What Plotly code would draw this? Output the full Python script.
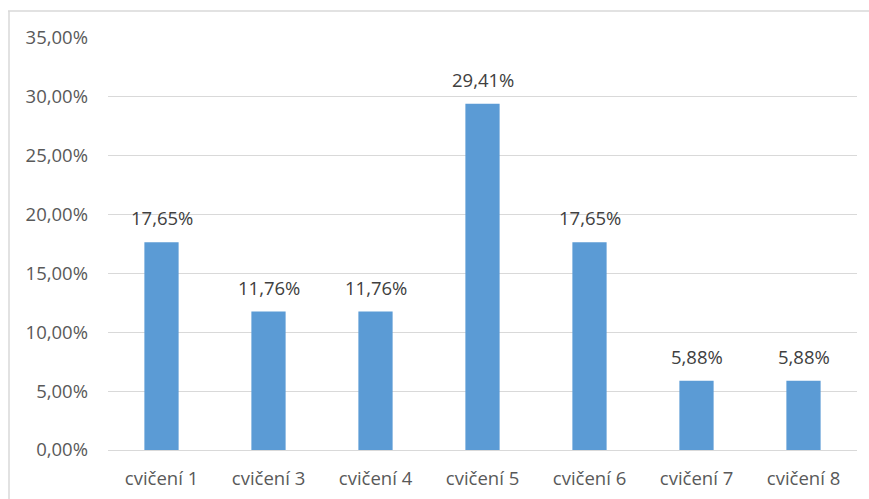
import plotly.graph_objects as go

categories = ["cvičení 1", "cvičení 3", "cvičení 4", "cvičení 5", "cvičení 6", "cvičení 7", "cvičení 8"]
shares = [0.1765, 0.1176, 0.1176, 0.2941, 0.1765, 0.0588, 0.0588]
y_ticks = [0, 0.05, 0.10, 0.15, 0.20, 0.25, 0.30, 0.35]

W, H = 869, 499
L, R, T, B = 108, 12, 38, 49
pw, ph = W - L - R, H - T - B

def px(x):
    return (x - L) / pw

def py(y):
    return (H - B - y) / ph

font_family = "'Open Sans', sans-serif"
font_size = 18.5
text_color = "#595959"
label_color = "#404040"
line_color = "#D9D9D9"

fig = go.Figure(go.Bar(
    x=categories,
    y=shares,
    width=0.32,
    marker=dict(color="#5B9BD5", line=dict(width=0)),
    hoverinfo="x+y",
))

# value labels above each bar
for cat, val in zip(categories, shares):
    fig.add_annotation(
        x=cat, y=val, xref="x", yref="y",
        text=f"{val * 100:.2f}%".replace(".", ","),
        showarrow=False, yanchor="bottom", yshift=10,
        font=dict(family=font_family, size=font_size, color=label_color),
    )

fig.update_layout(
    width=W, height=H,
    margin=dict(l=L, r=R, t=T, b=B, pad=0),
    paper_bgcolor="white",
    plot_bgcolor="white",
    separators=", ",
    showlegend=False,
    font=dict(family=font_family, size=font_size, color=text_color),
    xaxis=dict(
        showgrid=False, showline=False, zeroline=False,
        ticks="", ticklabelstandoff=15, automargin=False,
        tickfont=dict(family=font_family, size=font_size, color=text_color),
    ),
    yaxis=dict(
        range=[0, 0.35],
        tickvals=y_ticks,
        tickformat=".2%",
        showgrid=True, gridcolor=line_color, gridwidth=1,
        zeroline=True, zerolinecolor=line_color, zerolinewidth=1,
        showline=False, ticks="", ticklabelstandoff=19, automargin=False,
        tickfont=dict(family=font_family, size=font_size, color=text_color),
    ),
    shapes=[
        dict(type="line", xref="paper", yref="paper",
             x0=px(8), x1=px(869), y0=py(11), y1=py(11),
             line=dict(color=line_color, width=1.5)),
        dict(type="line", xref="paper", yref="paper",
             x0=px(9), x1=px(9), y0=py(11), y1=py(499),
             line=dict(color=line_color, width=1.5)),
    ],
)

fig.write_html("out.html")
